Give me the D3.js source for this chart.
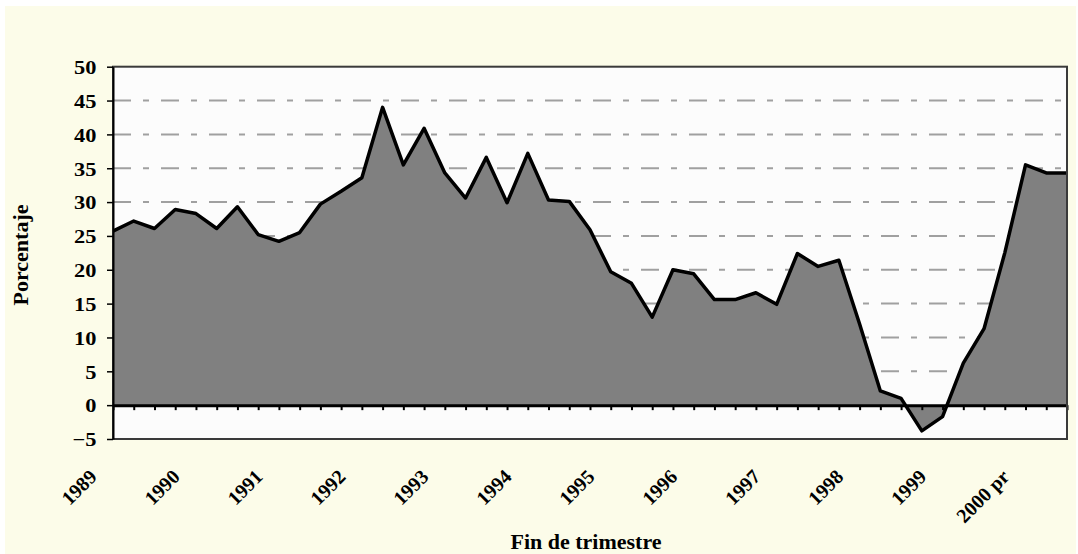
<!DOCTYPE html>
<html>
<head>
<meta charset="utf-8">
<script src="https://cdnjs.cloudflare.com/ajax/libs/d3/7.8.5/d3.min.js"></script>
<style>
  body { margin: 0; background: #fff; }
  text { font-family: "Liberation Serif", "Times New Roman", serif; font-weight: bold; fill: #000; }
</style>
</head>
<body>
<div id="chart"></div>
<script>
// years on the category axis, one label every 4 quarters
var years = [1989, 1990, 1991, 1992, 1993, 1994, 1995, 1996, 1997, 1998, 1999, 2000];
var yearLabels = ["1989", "1990", "1991", "1992", "1993", "1994", "1995", "1996", "1997", "1998", "1999", "2000 pr"];
var quarterNames = ["I", "II", "III", "IV"];

// percentage, end of quarter (1989 I .. 2000 III)
var values = [
  25.7, 27.2, 26.1, 28.9,   // 1989
  28.3, 26.1, 29.3, 25.2,   // 1990
  24.2, 25.5, 29.7, 31.6,   // 1991
  33.6, 44.0, 35.5, 40.9,   // 1992
  34.3, 30.6, 36.6, 29.9,   // 1993
  37.2, 30.3, 30.1, 25.9,   // 1994
  19.7, 18.0, 13.0, 20.0,   // 1995
  19.4, 15.6, 15.6, 16.6,   // 1996
  14.9, 22.4, 20.5, 21.4,   // 1997
  12.0, 2.1, 1.0, -3.8,     // 1998
  -1.7, 6.2, 11.3, 22.5,    // 1999
  35.5, 34.3, 34.3          // 2000
];

var yTicks = [-5, 0, 5, 10, 15, 20, 25, 30, 35, 40, 45, 50];
var gridTicks = [5, 10, 15, 20, 25, 30, 35, 40, 45];

// quarter categories
var quarters = [];
years.forEach(function(yr) {
  quarterNames.forEach(function(q) { quarters.push(yr + " " + q); });
});
quarters = quarters.slice(0, values.length);

var data = quarters.map(function(q, i) { return {q: q, v: values[i]}; });

var W = 1078, H = 554;
var plotLeft = 113, plotRight = 1067, plotTop = 66.7, plotBottom = 439;

var svg = d3.select("#chart")
  .append("svg")
  .attr("width", W)
  .attr("height", H);

// chart background
svg.append("rect").attr("x", 5).attr("y", 6).attr("width", 1071).attr("height", H - 6)
  .attr("fill", "#fcfce9");

// plot area
svg.append("rect").attr("x", plotLeft).attr("y", plotTop)
  .attr("width", plotRight - plotLeft).attr("height", plotBottom - plotTop)
  .attr("fill", "#fcfcfc");

var x = d3.scalePoint()
  .domain(quarters)
  .range([plotLeft, plotRight]);

var y = d3.scaleLinear()
  .domain([-5, 50])
  .range([plotBottom, plotTop]);

// dash-dot gridlines
svg.append("g")
  .selectAll("line")
  .data(gridTicks)
  .enter()
  .append("line")
  .attr("x1", plotLeft).attr("x2", plotRight)
  .attr("y1", function(d) { return y(d); })
  .attr("y2", function(d) { return y(d); })
  .attr("stroke", "#a0a0a0")
  .attr("stroke-width", 2)
  .attr("stroke-dasharray", "18,12,6,12");

// area
var area = d3.area()
  .x(function(d) { return x(d.q); })
  .y0(y(0))
  .y1(function(d) { return y(d.v); });

svg.append("path")
  .datum(data)
  .attr("d", area)
  .attr("fill", "#808080");

var line = d3.line()
  .x(function(d) { return x(d.q); })
  .y(function(d) { return y(d.v); });

svg.append("path")
  .datum(data)
  .attr("d", line)
  .attr("fill", "none")
  .attr("stroke", "#000")
  .attr("stroke-width", 3.5)
  .attr("stroke-linejoin", "round");

// category axis at zero
var xAxis = svg.append("g")
  .attr("transform", "translate(0," + y(0) + ")")
  .call(d3.axisBottom(x).tickSize(5).tickSizeOuter(0).tickFormat(""));
xAxis.select(".domain").attr("stroke", "#000").attr("stroke-width", 3);
xAxis.selectAll(".tick line").attr("stroke", "#000").attr("stroke-width", 2);

// plot border
svg.append("rect").attr("x", plotLeft).attr("y", plotTop)
  .attr("width", plotRight - plotLeft).attr("height", plotBottom - plotTop)
  .attr("fill", "none")
  .attr("stroke", "#3a3a3a")
  .attr("stroke-width", 2);

// value axis
var yAxis = svg.append("g")
  .attr("transform", "translate(" + plotLeft + ",0)")
  .call(d3.axisLeft(y).tickValues(yTicks).tickSize(6).tickSizeOuter(0));
yAxis.select(".domain").attr("stroke", "#000").attr("stroke-width", 2);
yAxis.selectAll(".tick line").attr("stroke", "#000").attr("stroke-width", 1.5);
yAxis.selectAll(".tick text")
  .attr("x", -14)
  .attr("dy", "0.36em")
  .attr("transform", "scale(1.18,1)")
  .style("font-size", "19px")
  .style("font-family", "Liberation Serif")
  .style("font-weight", "bold");

// year labels, rotated
svg.append("g")
  .selectAll("text")
  .data(yearLabels)
  .enter()
  .append("text")
  .attr("text-anchor", "end")
  .attr("transform", function(d, i) {
    return "translate(" + (x(quarters[i * 4]) - 15) + ",478) rotate(-45)";
  })
  .style("font-size", "20px")
  .text(function(d) { return d; });

// axis titles
svg.append("text")
  .attr("x", 586)
  .attr("y", 549)
  .attr("text-anchor", "middle")
  .style("font-size", "22px")
  .text("Fin de trimestre");

svg.append("text")
  .attr("transform", "translate(28,255) rotate(-90)")
  .attr("text-anchor", "middle")
  .style("font-size", "22px")
  .text("Porcentaje");
</script>
</body>
</html>
